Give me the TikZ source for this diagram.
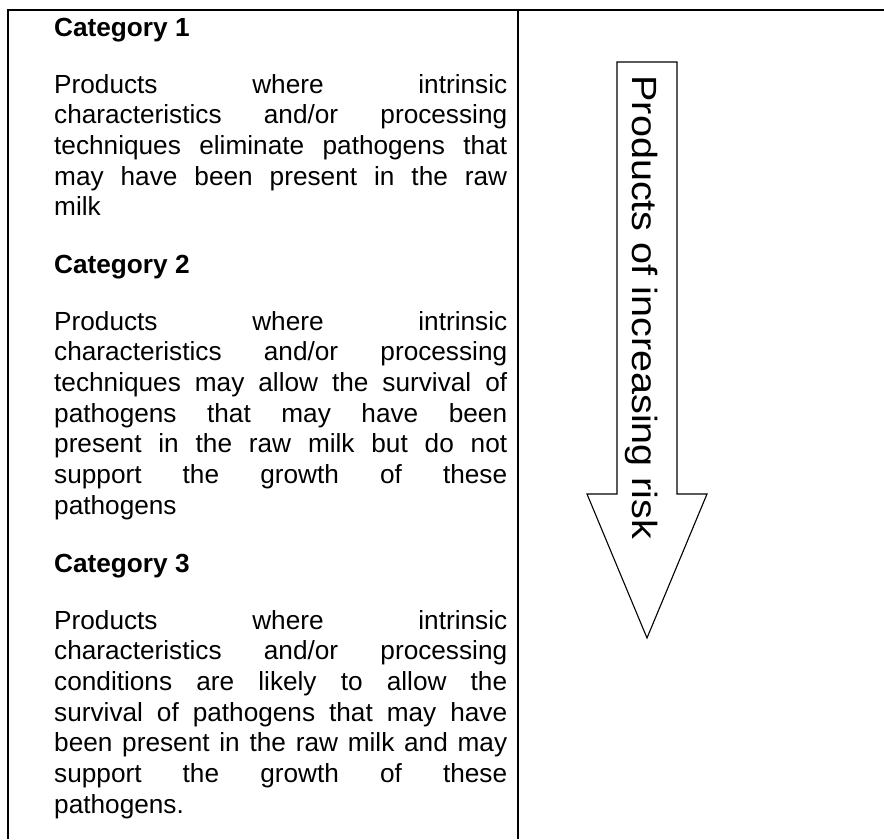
\documentclass[tikz,border=0pt]{standalone}
\usepackage{fontspec}
\usepackage{graphicx}
\setmainfont{Liberation Sans}
\newcommand\jl[1]{\hbox to 453pt{#1}}
\newcommand\lastl[1]{\hbox{#1}}
\newcommand\bodyblock[1]{\vtop{\fontsize{26.2pt}{30.7pt}\selectfont #1}}
\tikzset{
  rule/.style={line width=1.8pt, line join=miter},
  head/.style={anchor=base west, inner sep=0pt, font=\fontsize{26.2pt}{30.7pt}\selectfont\bfseries},
  body/.style={anchor=base west, inner sep=0pt},
  arrowshape/.style={line width=1.1pt, line join=miter},
  arrowtext/.style={rotate=-90, anchor=base, inner sep=0pt, font=\fontsize{35pt}{35pt}\selectfont}
}
\begin{document}
\begin{tikzpicture}[x=1pt,y=-1pt]
\useasboundingbox (0,0) rectangle (884,839);
% table rules
\draw[rule] (8,839) -- (8,10) -- (884,10);
\draw[rule] (518,10) -- (518,839);
% left column text
\node[head] (c1) at (54,36) {Category 1};
\node[body] (b1) at (54,93) {\bodyblock{%
\jl{Products where intrinsic}%
\jl{characteristics and/or processing}%
\jl{techniques eliminate pathogens that}%
\jl{may have been present in the raw}%
\lastl{milk}}};
\node[head] (c2) at (54,273) {Category 2};
\node[body] (b2) at (54,330) {\bodyblock{%
\jl{Products where intrinsic}%
\jl{characteristics and/or processing}%
\jl{techniques may allow the survival of}%
\jl{pathogens that may have been}%
\jl{present in the raw milk but do not}%
\jl{support the growth of these}%
\lastl{pathogens}}};
\node[head] (c3) at (54,572) {Category 3};
\node[body] (b3) at (54,629) {\bodyblock{%
\jl{Products where intrinsic}%
\jl{characteristics and/or processing}%
\jl{conditions are likely to allow the}%
\jl{survival of pathogens that may have}%
\jl{been present in the raw milk and may}%
\jl{support the growth of these}%
\lastl{pathogens.}}};
% arrow
\draw[arrowshape] (617,62) -- (677,62) -- (677,494) -- (707,494) -- (647,638) -- (587,494) -- (617,494) -- cycle;
\node[arrowtext] (risk) at (632,307.5) {\scalebox{1.13}[1]{Products of increasing risk}};
\end{tikzpicture}
\end{document}
